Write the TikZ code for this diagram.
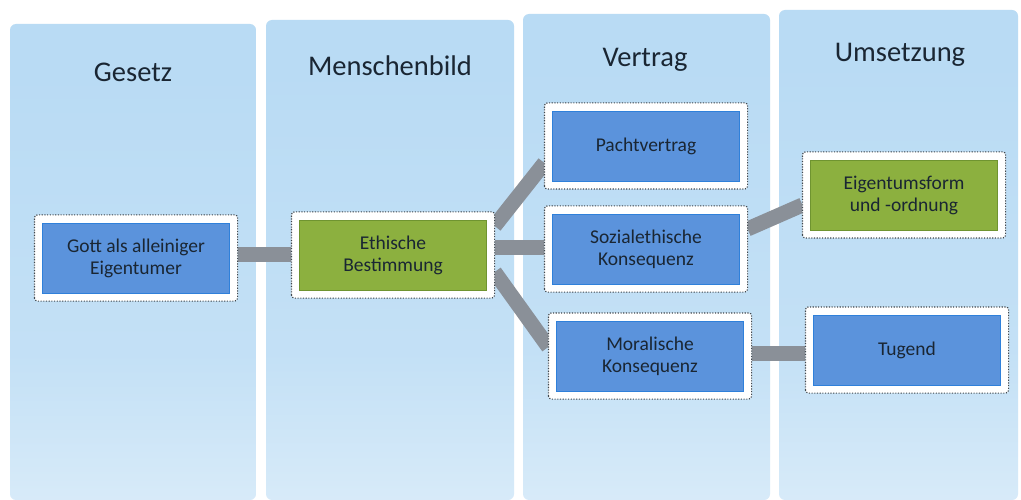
\documentclass[tikz,border=0pt]{standalone}
\usepackage{fontspec}
\setmainfont{Carlito}
\definecolor{colbg}{HTML}{B9DBF4}
\definecolor{boxblue}{HTML}{5B93DC}
\definecolor{boxblueline}{HTML}{2F80DA}
\definecolor{boxgreen}{HTML}{8CB03F}
\definecolor{boxgreenline}{HTML}{6F9430}
\definecolor{barcol}{HTML}{8A9098}
\definecolor{txt}{HTML}{1A2633}
\definecolor{dots}{HTML}{40484F}
\pgfdeclareverticalshading{colshade}{100bp}{color(0bp)=(white); color(8bp)=(colbg!25!white); color(40bp)=(colbg!85!white); color(70bp)=(colbg); color(100bp)=(colbg)}
\begin{document}
\begin{tikzpicture}[x=1pt,y=-1pt,
  column/.style={shading=colshade, rounded corners=6pt},
  title/.style={text=txt, font=\fontsize{28.5}{32}\selectfont},
  outerline/.style={draw=dots, dash pattern=on 1.1pt off 1.6pt, line width=1.2pt, fill=white, rounded corners=3pt},
  outerbox/.style={outerline, minimum width=202pt, minimum height=85pt, inner sep=0pt},
  innerbox/.style={draw=boxblueline, line width=0.8pt, fill=boxblue, minimum width=187pt, minimum height=70pt, inner sep=0pt, align=center, text=txt, font=\fontsize{19.5}{22}\selectfont},
  greenbox/.style={innerbox, fill=boxgreen, draw=boxgreenline},
  bar/.style={draw=barcol, line width=15pt}
]
\useasboundingbox (0,0) rectangle (1021,500);
\fill[white] (0,0) rectangle (1021,500);
% columns
\shade[column] (10,24) rectangle (256,500);
\shade[column] (266,20) rectangle (514,500);
\shade[column] (523,14) rectangle (770,500);
\shade[column] (779,10) rectangle (1018,500);
% titles
\node[title] (t1) at (133,72) {Gesetz};
\node[title] (t2) at (390,66) {Menschenbild};
\node[title] (t3) at (645,60) {Vertrag};
\node[title] (t4) at (900,55) {Umsetzung};
% outer boxes
\node[outerbox] (gott-o) at (136,258) {};
\node[outerbox] (eth-o) at (393,255) {};
\node[outerbox] (pacht-o) at (646,146) {};
\node[outerbox] (soz-o) at (646,249) {};
\node[outerbox] (mor-o) at (650,356) {};
\node[outerbox] (eig-o) at (904,195) {};
\node[outerbox] (tug-o) at (907,350) {};
% connectors
\draw[bar] ([yshift=4pt]gott-o.east) -- ([yshift=1pt]eth-o.east -| eth-o.west);
\draw[bar] ([yshift=29pt]eth-o.east) -- ([yshift=-17pt]pacht-o.west);
\draw[bar] ([yshift=8pt]eth-o.east) -- ([yshift=8pt]eth-o.east -| soz-o.west);
\draw[bar] ([yshift=-17pt]eth-o.east) -- ([yshift=9pt]mor-o.west);
\draw[bar] ([yshift=20pt]soz-o.east) -- ([yshift=-10pt]eig-o.west);
\draw[bar] ([yshift=3pt]mor-o.east) -- ([yshift=3pt]mor-o.east -| tug-o.west);
% redraw outer boxes on top of bar ends
\foreach \n in {gott-o,eth-o,pacht-o,soz-o,mor-o,eig-o,tug-o}{
  \draw[outerline] (\n.south west) rectangle (\n.north east);
}
% inner boxes
\node[innerbox] (gott) at (gott-o) {Gott als alleiniger\\Eigentumer};
\node[greenbox] (eth) at (eth-o) {Ethische\\Bestimmung};
\node[innerbox] (pacht) at (pacht-o) {Pachtvertrag};
\node[innerbox] (soz) at (soz-o) {Sozialethische\\Konsequenz};
\node[innerbox] (mor) at (mor-o) {Moralische\\Konsequenz};
\node[greenbox] (eig) at (eig-o) {Eigentumsform\\und -ordnung};
\node[innerbox] (tug) at (tug-o) {Tugend};
\end{tikzpicture}
\end{document}
